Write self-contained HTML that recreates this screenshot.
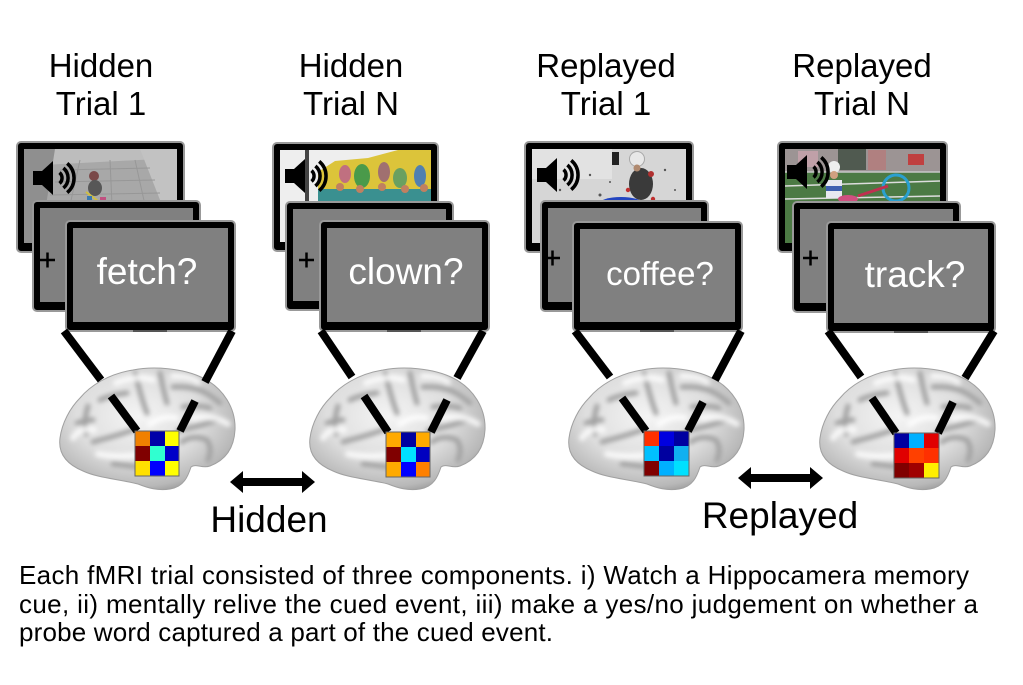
<!DOCTYPE html>
<html><head><meta charset="utf-8"><style>
html,body{margin:0;padding:0;background:#fff;}
svg{display:block;}
text{font-family:"Liberation Sans",Arial,sans-serif;}
</style></head><body>
<svg width="1023" height="685" viewBox="0 0 1023 685" xmlns="http://www.w3.org/2000/svg">
<defs>
 <radialGradient id="bg" cx="0.45" cy="0.4" r="0.65">
  <stop offset="0" stop-color="#f4f4f4"/>
  <stop offset="0.55" stop-color="#dedede"/>
  <stop offset="0.88" stop-color="#b8b8b8"/>
  <stop offset="1" stop-color="#969696"/>
 </radialGradient>
 <filter id="blur" x="-10%" y="-10%" width="120%" height="120%"><feGaussianBlur stdDeviation="2.4"/></filter>
 <clipPath id="bclip"><path d="M75,2 C95,-2 125,0 145,10 C165,20 178,40 177,62 C176,80 168,92 152,98 C144,101 138,95 133,99 C130,108 126,119 112,121 C100,123 90,120 80,116 C60,111 40,110 25,103 C8,96 0,85 2,70 C4,55 12,40 22,30 C32,18 50,6 75,2 Z"/></clipPath>
 <g id="brain">
  <path d="M75,2 C95,-2 125,0 145,10 C165,20 178,40 177,62 C176,80 168,92 152,98 C144,101 138,95 133,99 C130,108 126,119 112,121 C100,123 90,120 80,116 C60,111 40,110 25,103 C8,96 0,85 2,70 C4,55 12,40 22,30 C32,18 50,6 75,2 Z" fill="url(#bg)"/>
  <g clip-path="url(#bclip)">
   <g filter="url(#blur)" fill="none" stroke-linecap="round">
    <g stroke="#a2a2a2" stroke-width="5">
     <path d="M77,5 C80,15 83,30 89,45"/>
     <path d="M102,5 C104,15 106,25 109,35"/>
     <path d="M115,19 C125,18 135,20 142,22 C150,25 156,30 162,35"/>
     <path d="M125,39 C135,37 145,38 152,40"/>
     <path d="M42,32 C50,28 60,26 69,25"/>
     <path d="M19,55 C25,53 30,52 35,52"/>
     <path d="M120,63 C130,60 140,59 159,52"/>
     <path d="M124,74 C130,69 140,68 149,72 C153,78 153,85 150,92"/>
     <path d="M35,74 C45,71 55,69 75,62"/>
     <path d="M55,96 C75,98 90,101 105,101"/>
     <path d="M30,38 C27,48 26,58 28,66"/>
    </g>
    <g stroke="#ffffff" stroke-width="6" opacity="0.8">
     <path d="M58,15 C70,10 85,8 95,12"/>
     <path d="M92,56 C100,50 110,48 118,50"/>
     <path d="M40,86 C55,89 70,89 85,86"/>
     <path d="M135,50 C150,47 160,50 170,56"/>
     <path d="M115,8 C125,8 135,10 140,14"/>
     <path d="M15,70 C20,62 28,60 36,62"/>
    </g>
   </g>
  </g>
  <path d="M75,2 C95,-2 125,0 145,10 C165,20 178,40 177,62 C176,80 168,92 152,98 C144,101 138,95 133,99 C130,108 126,119 112,121 C100,123 90,120 80,116 C60,111 40,110 25,103 C8,96 0,85 2,70 C4,55 12,40 22,30 C32,18 50,6 75,2 Z" fill="none" stroke="#a0a0a0" stroke-width="1"/>
 </g>
 <g id="spk">
  <rect x="0" y="12" width="9" height="14" fill="#000"/>
  <polygon points="9,12 20,2 20,36 9,26" fill="#000"/>
  <g fill="none" stroke="#000" stroke-width="3.5">
   <path d="M26.5,13.6 A7,7 0 0 1 26.5,24.4"/>
   <path d="M30.4,9 A13,13 0 0 1 30.4,29"/>
   <path d="M34.2,4.4 A19,19 0 0 1 34.2,33.6"/>
  </g>
 </g>
 <clipPath id="c1"><rect x="24" y="149" width="153" height="94"/></clipPath>
 <clipPath id="c2"><rect x="280" y="150" width="151" height="92"/></clipPath>
 <clipPath id="c3"><rect x="532" y="149" width="154" height="94"/></clipPath>
 <clipPath id="c4"><rect x="785" y="149" width="155" height="94"/></clipPath>
</defs>

<rect x="0" y="0" width="1023" height="685" fill="#fff"/>

<!-- Titles -->
<g font-size="33" fill="#000" text-anchor="middle">
 <text x="101" y="77">Hidden</text><text x="101" y="115">Trial 1</text>
 <text x="351" y="77">Hidden</text><text x="351" y="115">Trial N</text>
 <text x="606" y="77">Replayed</text><text x="606" y="115">Trial 1</text>
 <text x="862" y="77">Replayed</text><text x="862" y="115">Trial N</text>
</g>

<!-- ===== Panel 1 ===== -->
<rect x="17" y="142" width="167" height="110" rx="4" fill="#000" stroke="#999" stroke-width="2"/>
<g clip-path="url(#c1)">
 <rect x="24" y="149" width="153" height="94" fill="#a8a8a8"/>
 <polygon points="24,149 177,149 177,158 24,166" fill="#bdbdbd"/>
 <polygon points="24,149 55,149 40,243 24,243" fill="#8f8f8f"/>
 <polygon points="140,149 177,149 177,205 162,205" fill="#c2c2c2"/>
 <g stroke="#979797" stroke-width="1">
  <line x1="60" y1="170" x2="150" y2="168"/><line x1="55" y1="182" x2="155" y2="180"/><line x1="50" y1="195" x2="160" y2="193"/>
  <line x1="80" y1="160" x2="70" y2="205"/><line x1="110" y1="160" x2="112" y2="205"/><line x1="135" y1="160" x2="145" y2="205"/>
 </g>
 <circle cx="94" cy="176" r="5" fill="#7a4848"/>
 <ellipse cx="95" cy="188" rx="7" ry="8" fill="#575757"/>
 <line x1="86" y1="192" x2="98" y2="201" stroke="#d0c040" stroke-width="2"/>
 <rect x="87" y="196" width="5" height="5" fill="#3a7ab0"/>
 <rect x="100" y="197" width="6" height="4" fill="#c05080"/>
</g>
<use href="#spk" x="33" y="159"/>
<rect x="33" y="201" width="167" height="110" rx="4" fill="#000" stroke="#999" stroke-width="2"/>
<rect x="40" y="208" width="153" height="94" fill="#808080"/>
<g stroke="#000" stroke-width="2.5"><line x1="40" y1="260" x2="55" y2="260"/><line x1="47.5" y1="252.5" x2="47.5" y2="267.5"/></g>
<rect x="66" y="221" width="169" height="110" rx="4" fill="#000" stroke="#999" stroke-width="2"/>
<rect x="73" y="228" width="155" height="94" fill="#808080"/>
<rect x="133" y="330" width="34" height="2" fill="#555"/>
<text x="147" y="284" font-size="37" fill="#fff" text-anchor="middle">fetch?</text>

<!-- ===== Panel 2 ===== -->
<rect x="273" y="143" width="165" height="108" rx="4" fill="#000" stroke="#999" stroke-width="2"/>
<g clip-path="url(#c2)">
 <rect x="280" y="150" width="151" height="92" fill="#eeeeee"/>
 <line x1="307" y1="150" x2="307" y2="205" stroke="#444" stroke-width="4"/>
 <polygon points="318,205 318,172 335,161 368,158 398,150 431,150 431,205" fill="#dcc43a"/>
 <ellipse cx="345" cy="174" rx="6" ry="9" fill="#c07080"/>
 <ellipse cx="362" cy="176" rx="8" ry="12" fill="#4a9a4a"/>
 <ellipse cx="384" cy="172" rx="6" ry="10" fill="#a07070"/>
 <ellipse cx="400" cy="178" rx="7" ry="10" fill="#6aa060"/>
 <ellipse cx="420" cy="176" rx="6" ry="11" fill="#5080b0"/>
 <rect x="318" y="189" width="113" height="14" fill="#3a9090"/>
 <g fill="#c08060"><circle cx="340" cy="187" r="4"/><circle cx="360" cy="189" r="4"/><circle cx="382" cy="187" r="4"/><circle cx="405" cy="189" r="4"/><circle cx="424" cy="188" r="4"/></g>
</g>
<use href="#spk" x="285" y="157"/>
<rect x="286" y="202" width="167" height="108" rx="4" fill="#000" stroke="#999" stroke-width="2"/>
<rect x="293" y="209" width="153" height="92" fill="#808080"/>
<g stroke="#000" stroke-width="2.5"><line x1="299" y1="260" x2="314" y2="260"/><line x1="306.5" y1="252.5" x2="306.5" y2="267.5"/></g>
<rect x="320" y="221" width="169" height="110" rx="4" fill="#000" stroke="#999" stroke-width="2"/>
<rect x="327" y="228" width="155" height="94" fill="#808080"/>
<rect x="387" y="330" width="34" height="2" fill="#555"/>
<text x="406" y="284" font-size="37" fill="#fff" text-anchor="middle">clown?</text>

<!-- ===== Panel 3 ===== -->
<rect x="525" y="142" width="168" height="110" rx="4" fill="#000" stroke="#999" stroke-width="2"/>
<g clip-path="url(#c3)">
 <rect x="532" y="149" width="154" height="94" fill="#d6d6d6"/>
 <rect x="532" y="149" width="80" height="30" fill="#e2e2e2"/>
 <g fill="#555"><circle cx="560" cy="190" r="1.2"/><circle cx="590" cy="175" r="1.2"/><circle cx="600" cy="195" r="1.5"/><circle cx="575" cy="165" r="1"/><circle cx="665" cy="170" r="1.2"/><circle cx="675" cy="190" r="1"/><circle cx="610" cy="182" r="1"/></g>
 <rect x="612" y="152" width="7" height="13" fill="#222"/>
 <ellipse cx="641" cy="184" rx="12" ry="16" fill="#3a3a3a"/>
 <circle cx="637" cy="159" r="7.5" fill="#e8e8e8" stroke="#a8a8a8" stroke-width="1"/>
 <circle cx="637" cy="168" r="3.5" fill="#b08a70"/>
 <circle cx="651" cy="174" r="3" fill="#b03030"/>
 <circle cx="628" cy="190" r="2.2" fill="#c03030"/>
 <circle cx="653" cy="199" r="2.2" fill="#c03030"/>
 <ellipse cx="621" cy="204" rx="22" ry="7" fill="#2345c0"/>
</g>
<use href="#spk" x="537" y="156"/>
<rect x="541" y="201" width="167" height="110" rx="4" fill="#000" stroke="#999" stroke-width="2"/>
<rect x="548" y="208" width="153" height="94" fill="#808080"/>
<g stroke="#000" stroke-width="2.5"><line x1="545" y1="258" x2="560" y2="258"/><line x1="552.5" y1="250.5" x2="552.5" y2="265.5"/></g>
<rect x="573" y="222" width="169" height="109" rx="4" fill="#000" stroke="#999" stroke-width="2"/>
<rect x="580" y="229" width="155" height="93" fill="#808080"/>
<rect x="640" y="330" width="34" height="2" fill="#555"/>
<text x="660" y="285" font-size="33" fill="#fff" text-anchor="middle">coffee?</text>

<!-- ===== Panel 4 ===== -->
<rect x="778" y="142" width="169" height="110" rx="4" fill="#000" stroke="#999" stroke-width="2"/>
<g clip-path="url(#c4)">
 <rect x="785" y="149" width="155" height="94" fill="#4c7a44"/>
 <rect x="785" y="149" width="155" height="23" fill="#9c9494"/>
 <rect x="798" y="151" width="20" height="16" fill="#c0a0a8"/>
 <rect x="838" y="149" width="28" height="21" fill="#505a50"/>
 <rect x="868" y="150" width="18" height="20" fill="#b08080"/>
 <rect x="908" y="154" width="16" height="11" fill="#c04040"/>
 <line x1="785" y1="172" x2="940" y2="172" stroke="#c8c8c8" stroke-width="1.5"/>
 <line x1="785" y1="186" x2="940" y2="181" stroke="#dddddd" stroke-width="1.5"/>
 <line x1="785" y1="199" x2="940" y2="196" stroke="#dddddd" stroke-width="1.5"/>
 <rect x="826" y="180" width="16" height="18" fill="#e8e8f0"/>
 <rect x="826" y="186" width="16" height="5" fill="#4060b0"/>
 <circle cx="834" cy="167" r="6" fill="#eeeeee"/>
 <circle cx="834" cy="175" r="4" fill="#d0a080"/>
 <circle cx="896" cy="188" r="13" fill="none" stroke="#2aa0d0" stroke-width="3"/>
 <line x1="858" y1="196" x2="888" y2="186" stroke="#c03050" stroke-width="3"/>
 <ellipse cx="848" cy="199" rx="10" ry="4" fill="#d05080"/>
</g>
<use href="#spk" x="787" y="153"/>
<rect x="793" y="202" width="167" height="110" rx="4" fill="#000" stroke="#999" stroke-width="2"/>
<rect x="800" y="209" width="153" height="94" fill="#808080"/>
<g stroke="#000" stroke-width="2.5"><line x1="803" y1="258" x2="818" y2="258"/><line x1="810.5" y1="250.5" x2="810.5" y2="265.5"/></g>
<rect x="827" y="222" width="168" height="110" rx="4" fill="#000" stroke="#999" stroke-width="2"/>
<rect x="834" y="229" width="154" height="94" fill="#808080"/>
<rect x="894" y="331" width="34" height="2" fill="#555"/>
<text x="915" y="287" font-size="37" fill="#fff" text-anchor="middle">track?</text>

<!-- Brains -->
<use href="#brain" x="58" y="368"/>
<use href="#brain" x="308" y="368"/>
<use href="#brain" x="567" y="368"/>
<use href="#brain" x="818" y="368"/>

<!-- Connector lines -->
<g stroke="#000" stroke-width="8" stroke-linecap="butt">
 <line x1="64" y1="331" x2="101" y2="380"/><line x1="111" y1="396" x2="137" y2="431"/>
 <line x1="232" y1="331" x2="205" y2="382"/><line x1="195" y1="401" x2="180" y2="431"/>
 <line x1="321" y1="331" x2="352" y2="377"/><line x1="364" y1="396" x2="388" y2="432"/>
 <line x1="483" y1="331" x2="457" y2="378"/><line x1="447" y1="400" x2="431" y2="432"/>
 <line x1="575" y1="331" x2="610" y2="377"/><line x1="622" y1="398" x2="646" y2="431"/>
 <line x1="741" y1="331" x2="715" y2="380"/><line x1="703" y1="402" x2="688" y2="431"/>
 <line x1="828" y1="331" x2="861" y2="377"/><line x1="872" y1="398" x2="896" y2="433"/>
 <line x1="994" y1="331" x2="965" y2="378"/><line x1="953" y1="402" x2="938" y2="433"/>
</g>

<!-- Matrices -->
<g stroke="none">
 <rect x="135" y="431" width="15" height="15" fill="#f08000"/><rect x="150" y="431" width="15" height="15" fill="#0000a8"/><rect x="165" y="431" width="14" height="15" fill="#ffff00"/>
 <rect x="135" y="446" width="15" height="15" fill="#800000"/><rect x="150" y="446" width="15" height="15" fill="#30ffd0"/><rect x="165" y="446" width="14" height="15" fill="#0000c8"/>
 <rect x="135" y="461" width="15" height="15" fill="#ffe000"/><rect x="150" y="461" width="15" height="15" fill="#0000ff"/><rect x="165" y="461" width="14" height="15" fill="#ffff00"/>
 <rect x="386" y="432" width="15" height="15" fill="#ffaa00"/><rect x="401" y="432" width="15" height="15" fill="#0000a0"/><rect x="416" y="432" width="14" height="15" fill="#ffaa00"/>
 <rect x="386" y="447" width="15" height="15" fill="#800000"/><rect x="401" y="447" width="15" height="15" fill="#00e0ff"/><rect x="416" y="447" width="14" height="15" fill="#0000c0"/>
 <rect x="386" y="462" width="15" height="15" fill="#ffaa00"/><rect x="401" y="462" width="15" height="15" fill="#0000ff"/><rect x="416" y="462" width="14" height="15" fill="#ff8000"/>
 <rect x="644" y="431" width="15" height="15" fill="#ff3000"/><rect x="659" y="431" width="15" height="15" fill="#0000e0"/><rect x="674" y="431" width="15" height="15" fill="#0000a0"/>
 <rect x="644" y="446" width="15" height="15" fill="#00c0ff"/><rect x="659" y="446" width="15" height="15" fill="#0000a0"/><rect x="674" y="446" width="15" height="15" fill="#10b0f0"/>
 <rect x="644" y="461" width="15" height="15" fill="#800000"/><rect x="659" y="461" width="15" height="15" fill="#00b0ff"/><rect x="674" y="461" width="15" height="15" fill="#00e0ff"/>
 <rect x="894" y="433" width="15" height="15" fill="#0000a0"/><rect x="909" y="433" width="15" height="15" fill="#00b0ff"/><rect x="924" y="433" width="15" height="15" fill="#e00000"/>
 <rect x="894" y="448" width="15" height="15" fill="#e00000"/><rect x="909" y="448" width="15" height="15" fill="#ff4000"/><rect x="924" y="448" width="15" height="15" fill="#ff3000"/>
 <rect x="894" y="463" width="15" height="15" fill="#800000"/><rect x="909" y="463" width="15" height="15" fill="#a00000"/><rect x="924" y="463" width="15" height="15" fill="#ffee00"/>
</g>
<g fill="none" stroke="#666" stroke-width="1">
 <rect x="135" y="431" width="44" height="45"/>
 <rect x="386" y="432" width="44" height="45"/>
 <rect x="644" y="431" width="45" height="45"/>
 <rect x="894" y="433" width="45" height="45"/>
</g>

<!-- Double arrows -->
<polygon points="230,482 243,471 243,478 302,478 302,471 315,482 302,493 302,486 243,486 243,493" fill="#000"/>
<polygon points="738,478 751,467 751,474 810,474 810,467 823,478 810,489 810,482 751,482 751,489" fill="#000"/>

<!-- Group labels -->
<text x="269" y="532" font-size="37" fill="#000" text-anchor="middle">Hidden</text>
<text x="780" y="528" font-size="37" fill="#000" text-anchor="middle">Replayed</text>

<!-- Caption -->
<g font-size="26" fill="#000">
 <text x="19" y="584" textLength="950" lengthAdjust="spacing">Each fMRI trial consisted of three components. i) Watch a Hippocamera memory</text>
 <text x="19" y="613" textLength="959" lengthAdjust="spacing">cue, ii) mentally relive the cued event, iii) make a yes/no judgement on whether a</text>
 <text x="19" y="641" textLength="534" lengthAdjust="spacing">probe word captured a part of the cued event.</text>
</g>
</svg>
</body></html>
